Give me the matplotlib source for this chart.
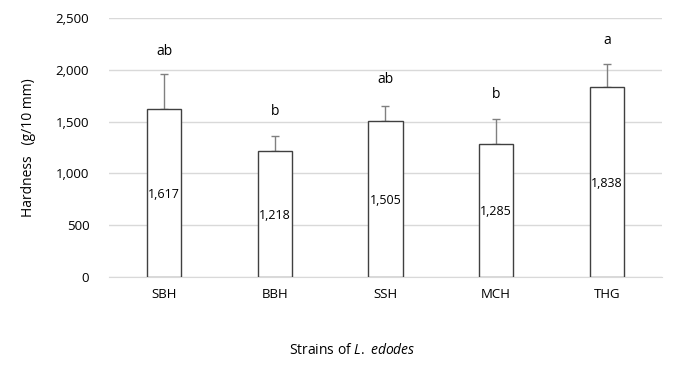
import numpy as np
import matplotlib.pyplot as plt

plt.rcParams['font.family'] = ['Open Sans', 'DejaVu Sans']
plt.rcParams['mathtext.fontset'] = 'custom'
plt.rcParams['mathtext.it'] = 'Open Sans:italic'
plt.rcParams['mathtext.rm'] = 'Open Sans'

strains = ['SBH', 'BBH', 'SSH', 'MCH', 'THG']
hardness = [1617, 1218, 1505, 1285, 1838]
sd = [342, 146, 149, 240, 215]
letters = ['ab', 'b', 'ab', 'b', 'a']
letter_y = [2172, 1596, 1902, 1757, 2278]

fig = plt.figure(figsize=(6.84, 3.66), dpi=100)
ax = fig.add_axes([0.159, 0.243, 0.809, 0.708])

x = np.arange(len(strains))
ax.bar(x, hardness, width=0.31, color='white', edgecolor='#404040', linewidth=1.0, zorder=3)
ax.errorbar(x, hardness, yerr=[[0] * len(sd), sd], fmt='none', ecolor='#808080',
            elinewidth=1.0, capsize=3, capthick=1.0, zorder=2)

for i in range(len(strains)):
    ax.text(x[i], hardness[i] * 0.49, f'{hardness[i]:,}', ha='center', va='center',
            fontsize=9, zorder=4)
    ax.text(x[i], letter_y[i], letters[i], ha='center', va='center', fontsize=10)

ax.set_xlim(-0.5, len(strains) - 0.5)
ax.set_ylim(0, 2500)
ax.set_yticks(range(0, 2501, 500))
ax.set_yticklabels([f'{v:,}' for v in range(0, 2501, 500)], fontsize=9.5)
ax.set_xticks(x)
ax.set_xticklabels(strains, fontsize=9.5)
ax.tick_params(length=0, pad=8)
ax.tick_params(axis='y', pad=14)
ax.grid(axis='y', color='#d9d9d9', linewidth=1.0, zorder=0)
for s in ['top', 'right', 'left']:
    ax.spines[s].set_visible(False)
ax.spines['bottom'].set_color('#d9d9d9')

ax.set_ylabel('Hardness   (g/10 mm)', fontsize=10, labelpad=14)
fig.text(352 / 684, 1 - 350 / 366, 'Strains of $\\mathit{L.}$ $\\mathit{edodes}$', ha='center',
         va='center', fontsize=10)

fig.savefig('out.png', dpi=100)
